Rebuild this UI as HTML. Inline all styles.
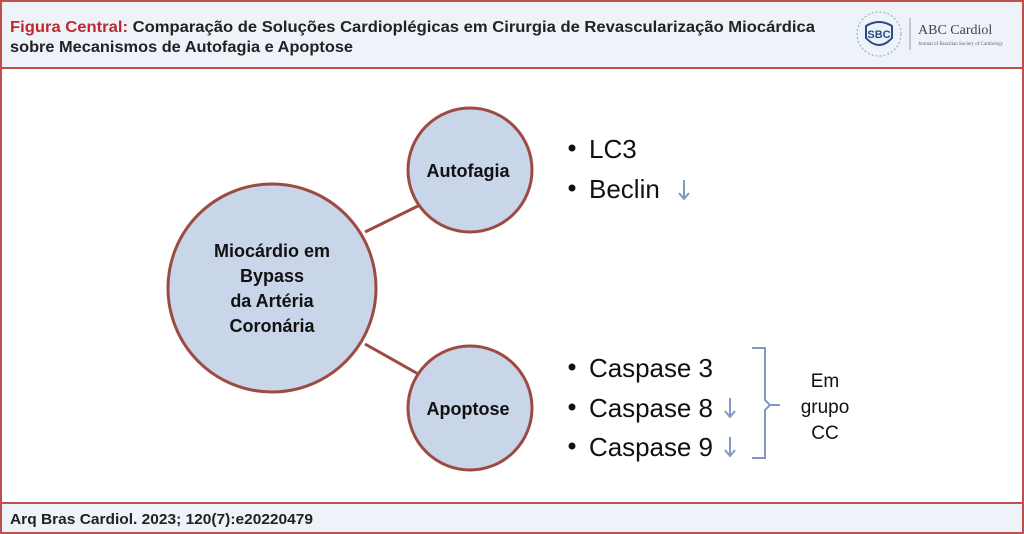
<!DOCTYPE html>
<html><head><meta charset="utf-8"><style>
html,body{margin:0;padding:0;background:#fff;}
svg{display:block;}
</style></head><body>
<svg width="1024" height="534" viewBox="0 0 1024 534" xmlns="http://www.w3.org/2000/svg" font-family="Liberation Sans, Arial, sans-serif">
<rect x="0" y="0" width="1024" height="534" fill="#fff"/>
<rect x="1" y="1" width="1022" height="67" fill="#eef3f9" stroke="#c0504d" stroke-width="2"/>
<rect x="1" y="68" width="1022" height="465" fill="none" stroke="#c0504d" stroke-width="2"/>
<rect x="1" y="503" width="1022" height="30" fill="#eef3f9" stroke="#c0504d" stroke-width="2"/>
<text x="10" y="32" font-size="16" font-weight="bold" fill="#222" textLength="805" lengthAdjust="spacingAndGlyphs"><tspan fill="#c0282d">Figura Central:</tspan> Comparação de Soluções Cardioplégicas em Cirurgia de Revascularização Miocárdica</text>
<text x="10" y="52" font-size="16" font-weight="bold" fill="#222" textLength="343" lengthAdjust="spacingAndGlyphs">sobre Mecanismos de Autofagia e Apoptose</text>
<circle cx="879" cy="34" r="22" fill="none" stroke="#8aa" stroke-width="1" stroke-dasharray="2 2"/>
<path d="M866 26 Q879 18 892 26 L892 38 Q879 52 866 38 Z" fill="none" stroke="#2a4a8a" stroke-width="2"/>
<text x="879" y="38" font-size="11" font-weight="bold" fill="#2a4a8a" text-anchor="middle">SBC</text>
<line x1="910" y1="18" x2="910" y2="50" stroke="#999"/>
<text x="918" y="34" font-size="14" fill="#444" font-family="Liberation Serif, serif">ABC Cardiol</text>
<text x="918" y="45" font-size="5" fill="#666" font-family="Liberation Serif, serif">Journal of Brazilian Society of Cardiology</text>
<text x="10" y="524" font-size="15" font-weight="bold" fill="#222" textLength="303" lengthAdjust="spacingAndGlyphs">Arq Bras Cardiol. 2023; 120(7):e20220479</text>

<line x1="365" y1="232" x2="420" y2="205" stroke="#9c4b43" stroke-width="3"/>
<line x1="365" y1="344" x2="420" y2="375" stroke="#9c4b43" stroke-width="3"/>
<circle cx="272" cy="288" r="104" fill="#c9d5e8" stroke="#9c4b43" stroke-width="3"/>
<circle cx="470" cy="170" r="62" fill="#c9d5e8" stroke="#9c4b43" stroke-width="3"/>
<circle cx="470" cy="408" r="62" fill="#c9d5e8" stroke="#9c4b43" stroke-width="3"/>
<g font-size="18" font-weight="bold" fill="#111" text-anchor="middle">
<text x="272" y="257">Miocárdio em</text>
<text x="272" y="282">Bypass</text>
<text x="272" y="307">da Artéria</text>
<text x="272" y="332">Coronária</text>
<text x="468" y="177">Autofagia</text>
<text x="468" y="415">Apoptose</text>
</g>
<g font-size="26" fill="#111">
<circle cx="572" cy="148" r="3.5" fill="#111"/><text x="589" y="158">LC3</text>
<circle cx="572" cy="188" r="3.5" fill="#111"/><text x="589" y="198">Beclin</text>
<circle cx="572" cy="367" r="3.5" fill="#111"/><text x="589" y="377" textLength="124">Caspase 3</text>
<circle cx="572" cy="407" r="3.5" fill="#111"/><text x="589" y="417" textLength="124">Caspase 8</text>
<circle cx="572" cy="446" r="3.5" fill="#111"/><text x="589" y="456" textLength="124">Caspase 9</text>
</g>
<g stroke="#7f98c4" stroke-width="2" fill="none">
<path d="M684 180 V198 M679 193 L684 199 L689 193"/>
<path d="M730 398 V416 M725 411 L730 417 L735 411"/>
<path d="M730 437 V455 M725 450 L730 456 L735 450"/>
<path d="M752 348 H765 V400 L770 405 L765 410 V458 H752"/>
<path d="M770 405 H780"/>
</g>
<g font-size="19" fill="#111" text-anchor="middle">
<text x="825" y="387">Em</text>
<text x="825" y="413">grupo</text>
<text x="825" y="439">CC</text>
</g>
</svg>
</body></html>
